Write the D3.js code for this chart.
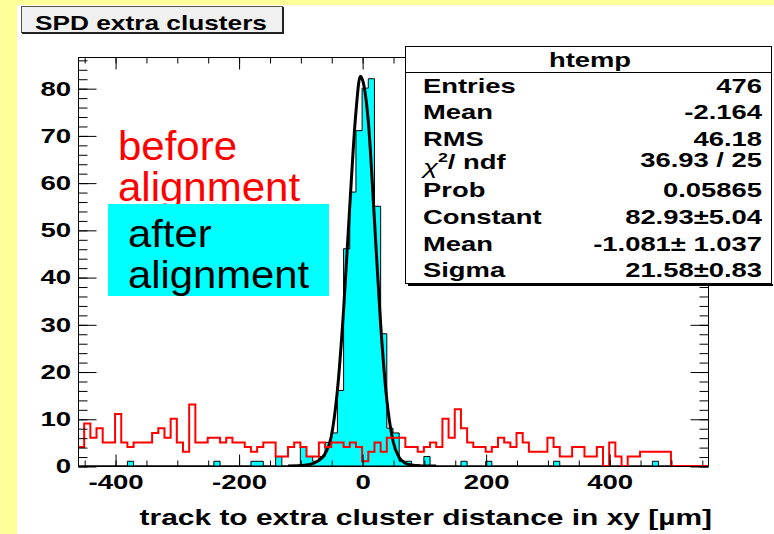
<!DOCTYPE html>
<html>
<head>
<meta charset="utf-8">
<script src="https://cdn.jsdelivr.net/npm/d3@7/dist/d3.min.js"></script>
<style>
	body { margin: 0; background: #fff; }
	svg { display: block; }
	text { font-family: 'Liberation Sans', Arial, Helvetica, sans-serif; }
</style>
</head>
<body>
<div id="chart"></div>
<script>

// Bin lower edges, 10 um wide
var binLow = d3.range(-460, 560, 10);

// "before alignment" counts per bin
var before = [
	4, 9, 6, 8, 5, 5, 11, 5, 4, 5,
	5, 5, 7, 8, 6, 10, 5, 3, 13, 5,
	5, 6, 6, 5, 6, 5, 5, 4, 3, 4,
	5, 5, 2, 2, 4, 5, 4, 2, 2, 5,
	4, 5, 5, 4, 5, 4, 1, 3, 5, 3,
	6, 6, 6, 4, 4, 3, 4, 5, 4, 10,
	6, 12, 8, 5, 4, 4, 3, 4, 6, 5,
	4, 7, 5, 3, 3, 3, 6, 4, 2, 2,
	4, 4, 2, 2, 4, 0, 5, 2, 0, 2,
	2, 3, 3, 3, 3, 3, 0, 0, 0, 0,
	0, 0
];

// "after alignment" counts per bin (htemp)
var after = [
	0, 0, 0, 0, 0, 0, 0, 0, 1, 0,
	0, 0, 0, 0, 0, 0, 0, 0, 0, 0,
	0, 0, 1, 0, 0, 0, 0, 0, 1, 1,
	0, 0, 2, 0, 0, 0, 4, 2, 1, 2,
	5, 7, 16, 46, 58, 71, 80, 82, 55, 28,
	8, 7, 1, 1, 0, 0, 2, 0, 0, 0,
	0, 0, 1, 0, 0, 0, 1, 0, 0, 0,
	0, 0, 0, 0, 0, 0, 0, 1, 0, 0,
	0, 0, 0, 0, 0, 0, 0, 0, 0, 0,
	0, 0, 0, 1, 0, 0, 0, 0, 0, 0,
	0, 0
];

// Gaussian fit curve
var fitX = [-120, -100, -90, -80, -70, -60, -50, -40, -30, -20, -10, -3, 0, 10, 20, 30, 40, 50, 60, 70, 80, 90, 100, 120];
var fitY = [0, 0.1, 0.2, 0.5, 1.2, 2.6, 6.2, 16, 33, 55, 75, 82.5, 82, 73, 52, 30, 14, 5.3, 1.8, 0.6, 0.2, 0.1, 0, 0];

var xTicks = [-400, -200, 0, 200, 400];
var xMinor = d3.range(-450, 551, 50);
var yTicks = [0, 10, 20, 30, 40, 50, 60, 70, 80];
var yMinor = d3.range(0, 87, 2);

var statNames = ['Entries', 'Mean', 'RMS', 'chi2', 'Prob', 'Constant', 'Mean', 'Sigma'];
var statValues = ['476', '-2.164', '46.18', '36.93 / 25', '0.05865', '82.93\u00b15.04', '-1.081\u00b1 1.037', '21.58\u00b10.83'];

var W = 774, H = 534;
var frame = { left: 78, top: 57, right: 708, bottom: 466 };

var svg = d3.select('#chart').append('svg')
	.attr('width', W)
	.attr('height', H);

// Slide background strips
svg.append('rect').attr('x', 0).attr('y', 0).attr('width', W).attr('height', H).attr('fill', '#fff');
svg.append('rect').attr('x', 0).attr('y', 0).attr('width', 17).attr('height', H).attr('fill', '#ffff99');
svg.append('rect').attr('x', 0).attr('y', 0).attr('width', W).attr('height', 5).attr('fill', '#ffff99');

var x = d3.scaleLinear().domain([-460, 560]).range([frame.left, frame.right]);
var y = d3.scaleLinear().domain([0, 86.6]).range([frame.bottom, frame.top]);

svg.append('clipPath').attr('id', 'clip')
	.append('rect')
	.attr('x', frame.left).attr('y', frame.top)
	.attr('width', frame.right - frame.left)
	.attr('height', frame.bottom - frame.top);

var gPlot = svg.append('g').attr('clip-path', 'url(#clip)');

function steps(values) {
	var pts = values.map(function(v, i) {
		return { x: binLow[i], y: v };
	});
	pts.push({ x: binLow[binLow.length - 1] + 10, y: values[values.length - 1] });
	return pts;
}

// After alignment: filled cyan histogram
gPlot.append('path')
	.datum(steps(after))
	.attr('fill', '#00ffff')
	.attr('stroke', '#000')
	.attr('stroke-width', 1)
	.attr('d', d3.area()
		.curve(d3.curveStepAfter)
		.x(function(d) { return x(d.x); })
		.y0(y(0))
		.y1(function(d) { return y(d.y); }));

// Fit curve
gPlot.append('path')
	.datum(fitX.map(function(v, i) { return [v, fitY[i]]; }))
	.attr('fill', 'none')
	.attr('stroke', '#000')
	.attr('stroke-width', 3)
	.attr('d', d3.line()
		.curve(d3.curveMonotoneX)
		.x(function(d) { return x(d[0]); })
		.y(function(d) { return y(d[1]); }));

// Before alignment: red outline
gPlot.append('path')
	.datum(steps(before))
	.attr('fill', 'none')
	.attr('stroke', '#ff0000')
	.attr('stroke-width', 2)
	.attr('d', d3.line()
		.curve(d3.curveStepAfter)
		.x(function(d) { return x(d.x); })
		.y(function(d) { return y(d.y); }));

// Frame
svg.append('rect')
	.attr('x', frame.left + 0.5).attr('y', frame.top + 0.5)
	.attr('width', frame.right - frame.left)
	.attr('height', frame.bottom - frame.top)
	.attr('fill', 'none')
	.attr('stroke', '#000');

// Ticks on all four sides, pointing inward
function ticks(axis, tx, ty) {
	var g = svg.append('g')
		.attr('transform', 'translate(' + tx + ',' + ty + ')')
		.call(axis);
	g.select('.domain').remove();
	g.selectAll('text').remove();
	g.selectAll('line').attr('stroke', '#000');
}
ticks(d3.axisTop(x).tickValues(xTicks).tickSize(12), 0.5, frame.bottom + 0.5);
ticks(d3.axisTop(x).tickValues(xMinor).tickSize(6), 0.5, frame.bottom + 0.5);
ticks(d3.axisBottom(x).tickValues(xTicks).tickSize(12), 0.5, frame.top + 0.5);
ticks(d3.axisBottom(x).tickValues(xMinor).tickSize(6), 0.5, frame.top + 0.5);
ticks(d3.axisRight(y).tickValues(yTicks).tickSize(18), frame.left + 0.5, 0.5);
ticks(d3.axisRight(y).tickValues(yMinor).tickSize(9), frame.left + 0.5, 0.5);
ticks(d3.axisLeft(y).tickValues(yTicks).tickSize(18), frame.right + 0.5, 0.5);
ticks(d3.axisLeft(y).tickValues(yMinor).tickSize(9), frame.right + 0.5, 0.5);

// Tick labels
var gxl = svg.append('g')
	.attr('transform', 'translate(0.5,' + frame.bottom + ')')
	.call(d3.axisBottom(x).tickValues(xTicks).tickSize(0).tickPadding(9)
		.tickFormat(function(d) { return String(d); }));
gxl.select('.domain').remove();
gxl.selectAll('text')
	.attr('fill', '#000')
	.style('font-size', '20px')
	.style('font-weight', 'bold')
	.attr('transform', 'scale(1.38,1)');

var gyl = svg.append('g')
	.attr('transform', 'translate(' + frame.left + ',0.5)')
	.call(d3.axisLeft(y).tickValues(yTicks).tickSize(0).tickPadding(5));
gyl.select('.domain').remove();
gyl.selectAll('text')
	.attr('fill', '#000')
	.style('font-size', '20px')
	.style('font-weight', 'bold')
	.attr('transform', 'scale(1.38,1)');

// Helper for horizontally stretched text
function label(parent, str, tx, ty, size, sx, opts) {
	opts = opts || {};
	return parent.append('text')
		.attr('transform', 'translate(' + tx + ',' + ty + ') scale(' + sx + ',1)')
		.attr('text-anchor', opts.anchor || 'start')
		.attr('fill', opts.color || '#000')
		.style('font-size', size + 'px')
		.style('font-weight', opts.weight || 'bold')
		.text(str);
}

// Axis title
label(svg, 'track to extra cluster distance in xy [\u00b5m]', 712, 525, 22, 1.36, { anchor: 'end' });

// Annotations
label(svg, 'before', 118, 160, 40, 1.05, { color: '#ff0000', weight: 'normal' });
label(svg, 'alignment', 118, 201, 40, 1.05, { color: '#ff0000', weight: 'normal' });
svg.append('rect')
	.attr('x', 108).attr('y', 204)
	.attr('width', 221).attr('height', 92)
	.attr('fill', '#00ffff');
label(svg, 'after', 128, 247, 38, 1.1, { weight: 'normal' });
label(svg, 'alignment', 128, 288, 38, 1.1, { weight: 'normal' });

// Title box
svg.append('rect')
	.attr('x', 21.5).attr('y', 6.5)
	.attr('width', 261).attr('height', 26)
	.attr('fill', '#f0f0f0')
	.attr('stroke', '#555');
svg.append('path')
	.attr('d', 'M283,7V33H22')
	.attr('fill', 'none')
	.attr('stroke', '#222')
	.attr('stroke-width', 2);
label(svg, 'SPD extra clusters', 35, 30, 21, 1.25);

// Stats box
var gStats = svg.append('g');
gStats.append('rect')
	.attr('x', 405.5).attr('y', 46.5)
	.attr('width', 366).attr('height', 237)
	.attr('fill', '#fff')
	.attr('stroke', '#000');
gStats.append('line')
	.attr('x1', 408).attr('x2', 773)
	.attr('y1', 285).attr('y2', 285)
	.attr('stroke', '#000')
	.attr('stroke-width', 2);
gStats.append('line')
	.attr('x1', 405).attr('x2', 772)
	.attr('y1', 72.5).attr('y2', 72.5)
	.attr('stroke', '#000');
label(gStats, 'htemp', 590, 67, 20, 1.37, { anchor: 'middle' });

var rowBase = [93, 119, 146, 169, 197, 224, 251, 277];
statNames.forEach(function(name, i) {
	if (name === 'chi2') {
		var t = gStats.append('text')
			.attr('transform', 'translate(423,' + rowBase[i] + ') scale(1.37,1)')
			.style('font-size', '20px')
			.style('font-weight', 'bold');
		t.append('tspan').attr('dy', 5).style('font-weight', 'normal').style('font-style', 'italic').text('\u03c7');
		t.append('tspan').attr('dy', -12).style('font-size', '13px').text('2');
		t.append('tspan').attr('dy', 7).text('/ ndf');
	} else {
		label(gStats, name, 423, rowBase[i], 20, 1.37);
	}
	label(gStats, statValues[i], 762, rowBase[i] - (i === 3 ? 2 : 0), 20, 1.37, { anchor: 'end' });
});

</script>
</body>
</html>
